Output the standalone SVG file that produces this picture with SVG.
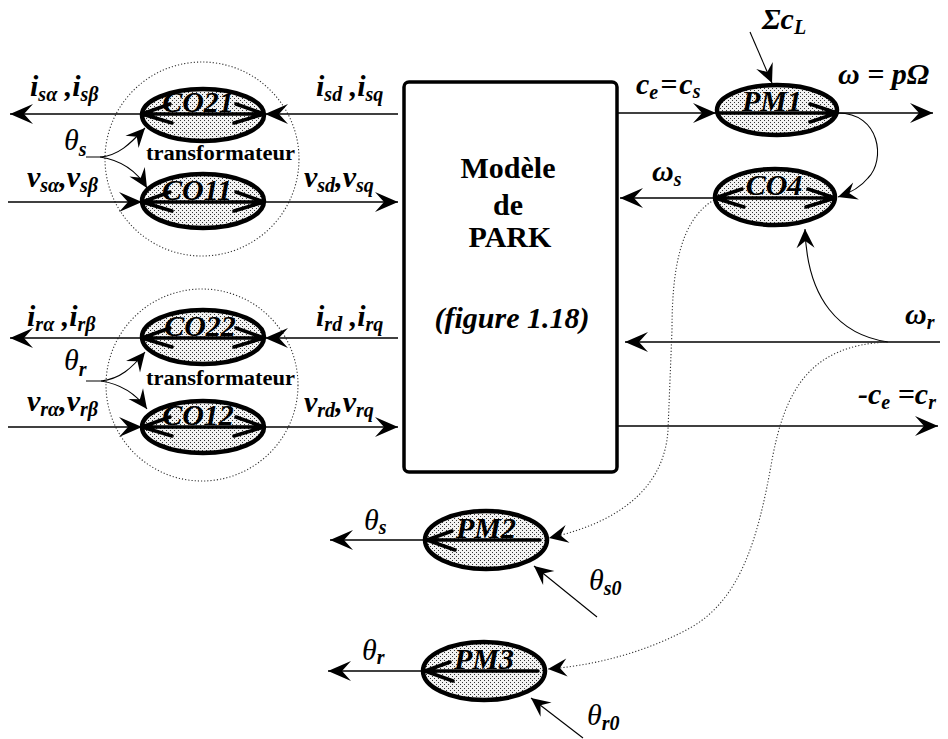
<svg xmlns="http://www.w3.org/2000/svg" width="948" height="739" viewBox="0 0 948 739">
<style>
.m{font-family:"Liberation Serif",serif;font-weight:bold;font-style:italic;font-size:30px;fill:#000}
.t{font-family:"Liberation Serif",serif;font-style:italic;font-size:30px;fill:#000}
.s{font-size:20px;font-weight:bold;font-style:italic}
.ln{fill:none;stroke:#000;stroke-width:1.5}
.cv{fill:none;stroke:#000;stroke-width:1.1}
.dot{fill:none;stroke:#333;stroke-width:1.1;stroke-dasharray:1.2 2}
.el{fill:url(#dots);stroke:#000;stroke-width:4.5}
.in{fill:none;stroke:#000;stroke-width:3.5;stroke-linecap:round;stroke-linejoin:round}
.nl{font-family:"Liberation Serif",serif;font-weight:bold;font-style:italic;font-size:30px;fill:#000;text-anchor:middle}
.pk{font-family:"Liberation Serif",serif;font-weight:bold;font-size:30px;fill:#000;text-anchor:middle}
.tr{font-family:"Liberation Serif",serif;font-weight:bold;font-size:21px;fill:#000}
</style>
<defs>
<pattern id="dots" width="4" height="4" patternUnits="userSpaceOnUse">
<rect width="4" height="4" fill="#f2f2f2"/>
<rect x="0" y="0" width="1" height="1" fill="#333"/>
<rect x="2" y="2" width="1" height="1" fill="#333"/>
</pattern>
<marker id="ah" viewBox="-25 -12 27 24" refX="0" refY="0" markerWidth="27" markerHeight="24" orient="auto" markerUnits="userSpaceOnUse">
<path d="M0,0 L-23,-10 L-14,0 L-23,10 Z" fill="#000"/>
</marker>
<marker id="as" viewBox="-21 -11 23 22" refX="0" refY="0" markerWidth="23" markerHeight="22" orient="auto" markerUnits="userSpaceOnUse">
<path d="M0,0 L-19,-9 L-12,0 L-19,9 Z" fill="#000"/>
</marker>
</defs>
<rect width="948" height="739" fill="#fff"/>

<g id="transformateur-s">
<circle class="dot" cx="202" cy="159" r="97"/>
<text class="tr" x="146" y="160" textLength="149" lengthAdjust="spacingAndGlyphs">transformateur</text>
</g>
<g id="transformateur-r">
<circle class="dot" cx="202" cy="385" r="96"/>
<text class="tr" x="146" y="385" textLength="149" lengthAdjust="spacingAndGlyphs">transformateur</text>
</g>

<g id="connectors">
<path class="ln" d="M398,114 L265,114" marker-end="url(#ah)"/>
<path class="ln" d="M142,114 L10,114" marker-end="url(#ah)"/>
<path class="ln" d="M8,202 L142,202" marker-end="url(#ah)"/>
<path class="ln" d="M264,202 L398,202" marker-end="url(#ah)"/>
<path class="ln" d="M398,338 L265,338" marker-end="url(#ah)"/>
<path class="ln" d="M142,338 L10,338" marker-end="url(#ah)"/>
<path class="ln" d="M8,427 L142,427" marker-end="url(#ah)"/>
<path class="ln" d="M264,427 L398,427" marker-end="url(#ah)"/>
<path class="cv" d="M86,157 L100,157 C118,156 130,144 145,128" marker-end="url(#as)"/>
<path class="cv" d="M100,157 C120,160 136,170 147,188" marker-end="url(#as)"/>
<path class="cv" d="M86,381 L101,381 C120,379 132,368 145,352" marker-end="url(#as)"/>
<path class="cv" d="M101,381 C121,384 136,394 147,409" marker-end="url(#as)"/>
<path class="ln" d="M617,113 L716,113" marker-end="url(#ah)"/>
<path class="ln" d="M838,113 L933,113" marker-end="url(#ah)"/>
<path class="cv" d="M750,32 L772,83" marker-end="url(#as)"/>
<path class="cv" d="M838,113 C880,113 886,160 868,178 C860,188 850,193 838,197" marker-end="url(#as)"/>
<path class="ln" d="M715,198 L620,198" marker-end="url(#ah)"/>
<path class="ln" d="M940,342 L625,342" marker-end="url(#ah)"/>
<path class="cv" d="M888,342 C840,335 807,300 805,229" marker-end="url(#as)"/>
<path class="ln" d="M617,426 L938,426" marker-end="url(#ah)"/>
<path class="dot" d="M714,200 C680,220 672,270 672,330 L668,430 C665,480 630,520 549,538" marker-end="url(#as)"/>
<path class="dot" d="M888,342 C810,345 785,390 772,460 C758,540 740,600 690,628 C650,650 600,665 548,669" marker-end="url(#as)"/>
<path class="ln" d="M425,540 L330,540" marker-end="url(#ah)"/>
<path class="cv" d="M597,617 L534,566" marker-end="url(#as)"/>
<path class="ln" d="M423,671 L328,671" marker-end="url(#ah)"/>
<path class="cv" d="M583,738 L531,698" marker-end="url(#as)"/>
</g>

<g id="PARK">
<rect x="404" y="82" width="213" height="390" rx="5" fill="#fff" stroke="#000" stroke-width="3.5"/>
<text class="pk" x="508" y="178">Modèle</text>
<text class="pk" x="508" y="215">de</text>
<text class="pk" x="510" y="247">PARK</text>
<text class="pk" x="512" y="328" font-style="italic">(figure 1.18)</text>
</g>

<g id="CO21">
<ellipse class="el" cx="203" cy="115" rx="61" ry="26"/>
<path class="in" d="M142,114 L264,114 M170,104 L142,114 L172,123 M236,104 L264,114 L234,123"/>
<text class="nl" x="198" y="112">CO21</text>
</g>
<g id="CO11">
<ellipse class="el" cx="203" cy="201" rx="61" ry="27"/>
<path class="in" d="M142,202 L264,202 M170,192 L142,202 L172,211 M236,192 L264,202 L234,211"/>
<text class="nl" x="197" y="200">CO11</text>
</g>
<g id="CO22">
<ellipse class="el" cx="203" cy="337" rx="61" ry="27"/>
<path class="in" d="M142,338 L264,338 M170,328 L142,338 L172,347 M236,328 L264,338 L234,347"/>
<text class="nl" x="200" y="336">CO22</text>
</g>
<g id="CO12">
<ellipse class="el" cx="203" cy="427" rx="61" ry="26"/>
<path class="in" d="M142,427 L264,427 M170,417 L142,427 L172,436 M236,417 L264,427 L234,436"/>
<text class="nl" x="198" y="425">CO12</text>
</g>
<g id="PM1">
<ellipse class="el" cx="777" cy="110" rx="60" ry="25"/>
<path class="in" d="M718,113 L837,113 M810,104 L837,113 L810,122"/>
<text class="nl" x="772" y="111">PM1</text>
</g>
<g id="CO4">
<ellipse class="el" cx="775" cy="197" rx="60" ry="28"/>
<path class="in" d="M715,198 L835,198 M742,189 L715,198 L744,207 M808,189 L835,198 L806,207"/>
<text class="nl" x="774" y="195">CO4</text>
</g>
<g id="PM2">
<ellipse class="el" cx="486" cy="540" rx="61" ry="29"/>
<path class="in" d="M426,540 L540,540 M452,531 L427,540 L455,550"/>
<text class="nl" x="486" y="538">PM2</text>
</g>
<g id="PM3">
<ellipse class="el" cx="484" cy="671" rx="61" ry="29"/>
<path class="in" d="M424,671 L538,671 M450,662 L425,671 L453,681"/>
<text class="nl" x="484" y="669">PM3</text>
</g>

<g id="labels">
<text class="m" x="30" y="96">i<tspan class="s" dy="5">sα</tspan><tspan dy="-5"> ,i</tspan><tspan class="s" dy="5">sβ</tspan></text>
<text class="m" x="316" y="96">i<tspan class="s" dy="5">sd</tspan><tspan dy="-5"> ,i</tspan><tspan class="s" dy="5">sq</tspan></text>
<text class="m" x="27" y="187">v<tspan class="s" dy="5">sα</tspan><tspan dy="-5">,v</tspan><tspan class="s" dy="5">sβ</tspan></text>
<text class="m" x="304" y="187">v<tspan class="s" dy="5">sd</tspan><tspan dy="-5">,v</tspan><tspan class="s" dy="5">sq</tspan></text>
<text class="m" x="27" y="326">i<tspan class="s" dy="5">rα</tspan><tspan dy="-5"> ,i</tspan><tspan class="s" dy="5">rβ</tspan></text>
<text class="m" x="316" y="326">i<tspan class="s" dy="5">rd</tspan><tspan dy="-5"> ,i</tspan><tspan class="s" dy="5">rq</tspan></text>
<text class="m" x="27" y="411">v<tspan class="s" dy="5">rα</tspan><tspan dy="-5">,v</tspan><tspan class="s" dy="5">rβ</tspan></text>
<text class="m" x="304" y="412">v<tspan class="s" dy="5">rd</tspan><tspan dy="-5">,v</tspan><tspan class="s" dy="5">rq</tspan></text>
<text class="t" x="64" y="150">θ<tspan class="s" dy="6">s</tspan></text>
<text class="t" x="64" y="370">θ<tspan class="s" dy="6">r</tspan></text>
<text class="m" x="636" y="94">c<tspan class="s" dy="5">e</tspan><tspan dy="-5" dx="2">=</tspan><tspan dx="2">c</tspan><tspan class="s" dy="4">s</tspan></text>
<text class="m" x="838" y="84">ω = pΩ</text>
<text class="m" x="762" y="29" font-size="27">Σc<tspan class="s" dy="5">L</tspan></text>
<text class="m" x="652" y="181">ω<tspan class="s" dy="5">s</tspan></text>
<text class="m" x="905" y="324">ω<tspan class="s" dy="5">r</tspan></text>
<text class="m" x="858" y="404">-c<tspan class="s" dy="5">e</tspan><tspan dy="-5"> =c</tspan><tspan class="s" dy="5">r</tspan></text>
<text class="t" x="364" y="530">θ<tspan class="s" dy="4">s</tspan></text>
<text class="t" x="589" y="590">θ<tspan class="s" dy="5">s0</tspan></text>
<text class="t" x="362" y="660">θ<tspan class="s" dy="4">r</tspan></text>
<text class="t" x="587" y="725">θ<tspan class="s" dy="5">r0</tspan></text>
</g>
</svg>
